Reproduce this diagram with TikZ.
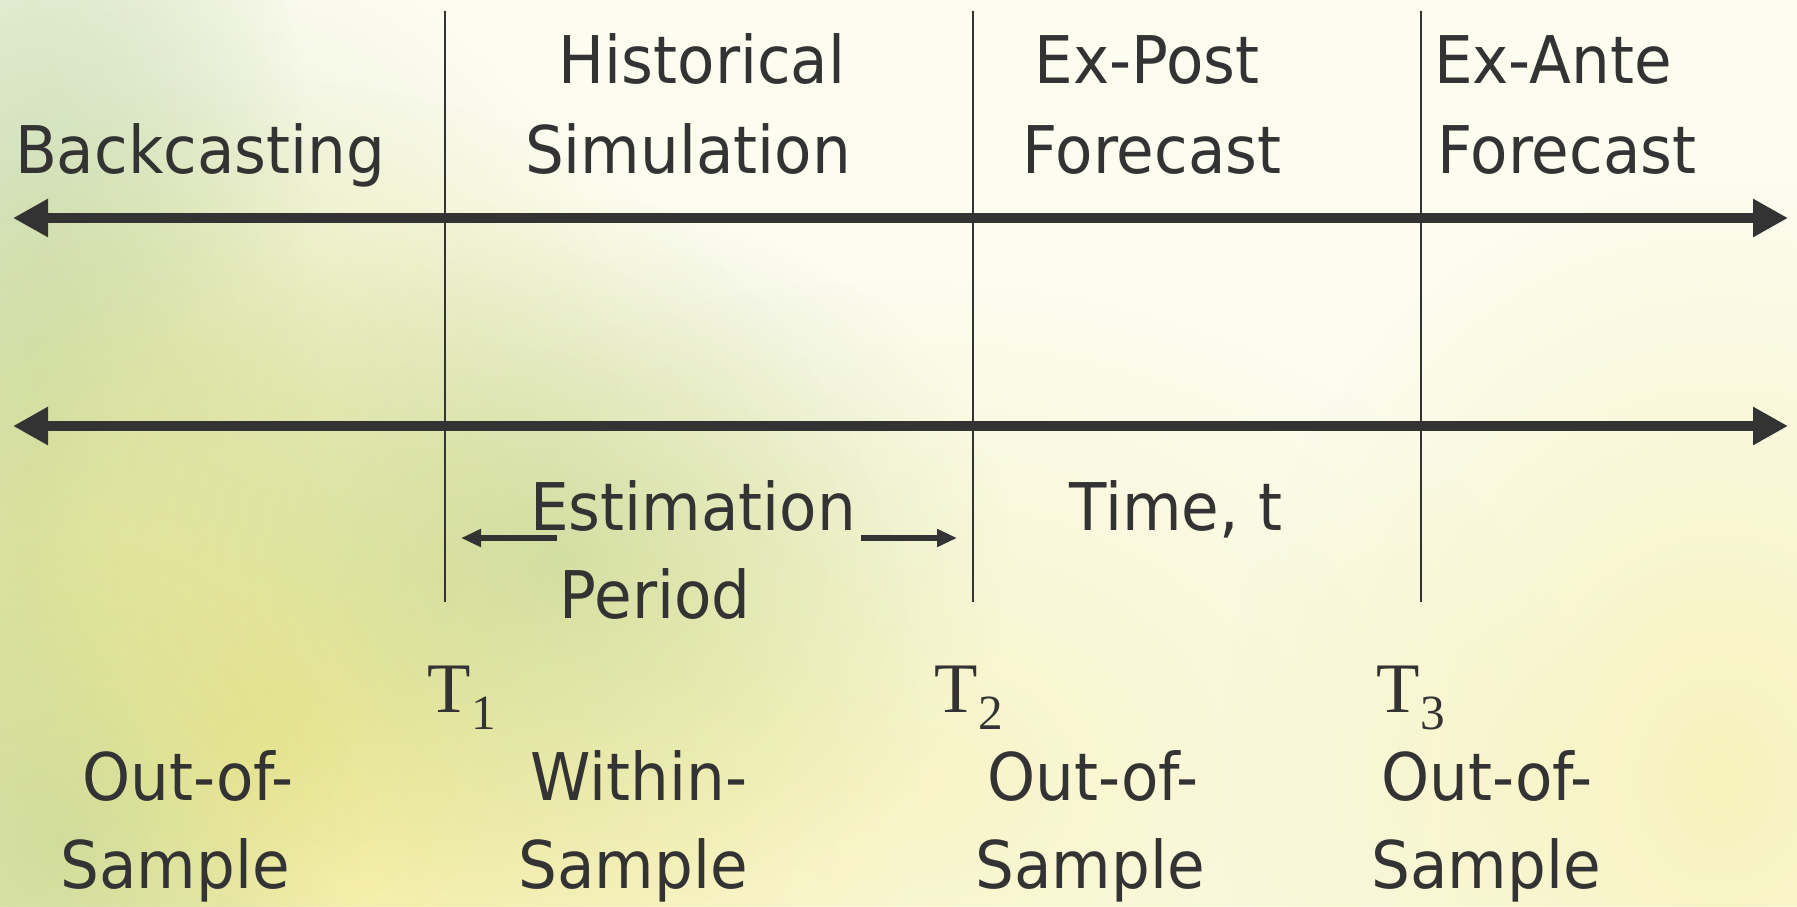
\documentclass[tikz,border=0pt]{standalone}
\usepackage{fontspec}
\setmainfont{DejaVu Sans}[FakeStretch=0.93]
\newfontfamily\tnr{Liberation Serif}
\usetikzlibrary{arrows.meta,fadings}
\definecolor{ink}{HTML}{333333}
\definecolor{bg}{HTML}{FCFCEF}
\definecolor{leaf}{HTML}{A8C88C}
\definecolor{sun}{HTML}{F2E98A}
\tikzfading[name=softblob, inner color=transparent!0, outer color=transparent!100]
\begin{document}
\begin{tikzpicture}[x=0.01cm,y=-0.01cm,
  lbl/.style={anchor=base,inner sep=0pt,text=ink,font=\fontsize{18.7}{25}\selectfont},
  tlbl/.style={anchor=base west,inner sep=0pt,text=ink,font=\tnr\fontsize{20.2}{24}\selectfont},
  divider/.style={draw=ink,line width=0.6pt},
  timeline/.style={draw=ink,line width=3.1pt,{Triangle[length=0.35cm,width=0.36cm]}-{Triangle[length=0.35cm,width=0.36cm]}},
  span/.style={draw=ink,line width=1.5pt,-{Triangle[length=0.2cm,width=0.17cm]}},
  blob/.style={path fading=softblob}]
\useasboundingbox (0,0) rectangle (1797,906);
% background
\fill[bg] (0,0) rectangle (1797,906);
\fill[leaf,opacity=0.6,blob] (30,500) ellipse [x radius=3cm, y radius=10cm];
\fill[leaf,opacity=0.3,blob] (170,380) ellipse [x radius=4.5cm, y radius=4.5cm];
\fill[sun,opacity=0.9,blob] (270,730) ellipse [x radius=6.5cm, y radius=6.5cm];
\fill[leaf,opacity=0.5,blob] (560,560) ellipse [x radius=4.5cm, y radius=3.6cm];
\fill[sun,opacity=0.4,blob] (900,780) ellipse [x radius=7cm, y radius=5cm];
\fill[sun,opacity=0.5,blob] (1720,780) ellipse [x radius=5cm, y radius=6cm];
\fill[leaf,opacity=0.35,blob] (60,840) ellipse [x radius=3cm, y radius=3cm];
% coordinates
\coordinate (L1t) at (445,11);  \coordinate (L1b) at (445,602);
\coordinate (L2t) at (973,11);  \coordinate (L2b) at (973,602);
\coordinate (L3t) at (1421,11); \coordinate (L3b) at (1421,602);
\coordinate (A1w) at (13,218);  \coordinate (A1e) at (1788,218);
\coordinate (A2w) at (13,426);  \coordinate (A2e) at (1788,426);
\coordinate (E1s) at (557,538); \coordinate (E1t) at (461,538);
\coordinate (E2s) at (861,538); \coordinate (E2t) at (957,538);
% dividers
\draw[divider] (L1t) -- (L1b);
\draw[divider] (L2t) -- (L2b);
\draw[divider] (L3t) -- (L3b);
% timelines
\draw[timeline] (A1w) -- (A1e);
\draw[timeline] (A2w) -- (A2e);
% estimation span arrows
\draw[span] (E1s) -- (E1t);
\draw[span] (E2s) -- (E2t);
% labels
\node[lbl] (back) at (200,173) {Backcasting};
\node[lbl] (hist1) at (702,83) {Historical};
\node[lbl] (hist2) at (688,173) {Simulation};
\node[lbl] (post1) at (1147,83) {Ex-Post};
\node[lbl] (post2) at (1152,173) {Forecast};
\node[lbl] (ante1) at (1553,83) {Ex-Ante};
\node[lbl] (ante2) at (1567,173) {Forecast};
\node[lbl] (est1) at (693,530) {Estimation};
\node[lbl] (est2) at (655,618) {Period};
\node[lbl] (time) at (1176,530) {Time, t};
\node[tlbl] (T1) at (427,712) {T\raisebox{-5pt}{\fontsize{14}{16}\selectfont 1}};
\node[tlbl] (T2) at (934,712) {T\raisebox{-5pt}{\fontsize{14}{16}\selectfont 2}};
\node[tlbl] (T3) at (1376,712) {T\raisebox{-5pt}{\fontsize{14}{16}\selectfont 3}};
\node[lbl] (oos1a) at (188,800) {Out-of-};
\node[lbl] (oos1b) at (175,888) {Sample};
\node[lbl] (ws1) at (639,800) {Within-};
\node[lbl] (ws2) at (633,888) {Sample};
\node[lbl] (oos2a) at (1093,800) {Out-of-};
\node[lbl] (oos2b) at (1090,888) {Sample};
\node[lbl] (oos3a) at (1487,800) {Out-of-};
\node[lbl] (oos3b) at (1486,888) {Sample};
\end{tikzpicture}
\end{document}
